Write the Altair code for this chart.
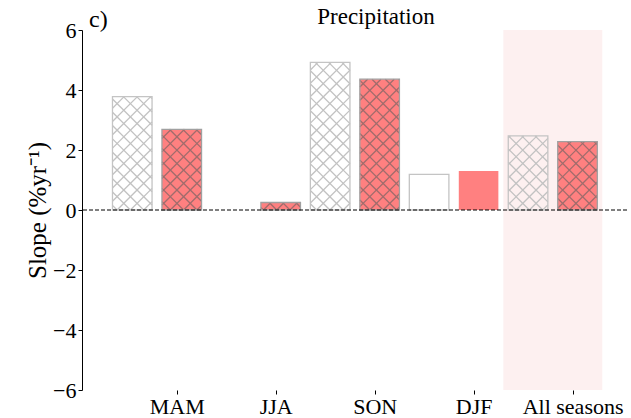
import json
import math
import altair as alt
import pandas as pd

# ---- data ----
seasons = ["MAM", "JJA", "SON", "DJF", "All seasons"]
gray_vals = [3.78, None, 4.92, 1.19, 2.47]
red_vals = [2.69, 0.25, 4.36, 1.30, 2.28]
hatched = [True, True, True, False, True]
yticks = [-6, -4, -2, 0, 2, 4, 6]
highlight = "All seasons"

# ---- layout / style ----
W, H = 545, 360
XDOM = [-0.758, 4.75]
YDOM = [-6, 6]
SX = W / (XDOM[1] - XDOM[0])
SY = H / (YDOM[1] - YDOM[0])
OFF, BW = 0.25, 0.4
HSP = 13.3  # hatch spacing in px
LABEL_SHIFT = 0.2
FONT = "Liberation Serif"

rows = []
for i, s in enumerate(seasons):
    for kind, vals, c in (("gray", gray_vals, -OFF), ("red", red_vals, OFF)):
        v = vals[i]
        if v is None:
            continue
        rows.append(dict(season=s, kind=kind, x0=i + c - BW / 2, x1=i + c + BW / 2,
                         y0=0.0, y1=v, hatch=hatched[i]))
bars = pd.DataFrame(rows)


def hatch_segments(x0, x1, h):
    a, b, hp = x0 * SX, x1 * SX, h * SY
    segs = []
    for k in range(math.ceil(a / HSP), math.floor((b + hp) / HSP) + 1):
        c = k * HSP
        u1, u2 = max(a, c - hp), min(b, c)
        if u2 > u1:
            segs.append((u1, c - u1, u2, c - u2))
    for k in range(math.ceil((a - hp) / HSP), math.floor(b / HSP) + 1):
        c = k * HSP
        u1, u2 = max(a, c), min(b, c + hp)
        if u2 > u1:
            segs.append((u1, u1 - c, u2, u2 - c))
    return [(p / SX, q / SY, r / SX, t / SY) for p, q, r, t in segs]


hrows = []
for _, r in bars[bars.hatch].iterrows():
    for hx0, hy0, hx1, hy1 in hatch_segments(r.x0, r.x1, r.y1):
        hrows.append(dict(kind=r.kind, hx0=hx0, hy0=hy0, hx1=hx1, hy1=hy1))
hatch = pd.DataFrame(hrows)

hi = seasons.index(highlight)
band = pd.DataFrame([dict(b0=hi - 0.5, b1=hi + 0.5)])
zero = pd.DataFrame([dict(z=0.0)])

xaxis = alt.Axis(values=[i + LABEL_SHIFT for i in range(len(seasons))],
                 labelExpr=f"{json.dumps(seasons)}[round(datum.value - {LABEL_SHIFT})]",
                 domain=False, ticks=True, tickSize=4, tickColor="black", grid=False,
                 labelFont=FONT, labelFontSize=22, labelColor="black", labelPadding=2,
                 labelOverlap=False, labelFlush=False, title=None)
yaxis = alt.Axis(values=yticks, domain=True, domainColor="black", ticks=True, tickSize=4,
                 tickColor="black", grid=False, labelFont=FONT, labelFontSize=22,
                 labelColor="black", labelPadding=2, format="d",
                 title="Slope (%yr⁻¹)", titleFont=FONT, titleFontSize=25,
                 titleFontWeight="normal", titleColor="black", titleAngle=270,
                 titleAlign="center", titleBaseline="alphabetic", titleX=-37, titleY=H / 2)
xs = alt.Scale(domain=XDOM, nice=False, zero=False)
ys = alt.Scale(domain=YDOM, nice=False, zero=False)


def X(f):
    return alt.X(f, type="quantitative", scale=xs, axis=xaxis)


def Y(f):
    return alt.Y(f, type="quantitative", scale=ys, axis=yaxis)


band_l = alt.Chart(band).mark_rect(color="#fdf0f0").encode(x=X("b0"), x2="b1")

red_fill = alt.Chart(bars[bars.kind == "red"]).mark_rect(color="#ff8080").encode(
    x=X("x0"), x2="x1", y=Y("y0"), y2="y1")

gray_hatch = alt.Chart(hatch[hatch.kind == "gray"]).mark_rule(color="#c2c2c2", strokeWidth=1.3).encode(
    x=X("hx0"), y=Y("hy0"), x2="hx1", y2="hy1")
red_hatch = alt.Chart(hatch[hatch.kind == "red"]).mark_rule(color="#a06c6c", strokeWidth=1.3).encode(
    x=X("hx0"), y=Y("hy0"), x2="hx1", y2="hy1")

gray_edge = alt.Chart(bars[bars.kind == "gray"]).mark_rect(
    fillOpacity=0, stroke="#c4c4c4", strokeWidth=1.3).encode(x=X("x0"), x2="x1", y=Y("y0"), y2="y1")
red_edge = alt.Chart(bars[(bars.kind == "red") & bars.hatch]).mark_rect(
    fillOpacity=0, stroke="#a0a0a0", strokeWidth=1.3).encode(x=X("x0"), x2="x1", y=Y("y0"), y2="y1")

zero_l = alt.Chart(zero).mark_rule(color="black", strokeWidth=1, strokeDash=[4, 2]).encode(y=Y("z"))

labels = pd.DataFrame([dict(t="c)", px=7, py=-3, al="left"),
                       dict(t="Precipitation", px=294, py=-6, al="center")])
panel = alt.Chart(labels[labels.al == "left"]).mark_text(
    font=FONT, fontSize=24, align="left", baseline="alphabetic", color="black").encode(
    text="t:N", x=alt.value(7), y=alt.value(-3))
title = alt.Chart(labels[labels.al == "center"]).mark_text(
    font=FONT, fontSize=23, align="center", baseline="alphabetic", color="black").encode(
    text="t:N", x=alt.value(294), y=alt.value(-6))

chart = alt.layer(band_l, red_fill, gray_hatch, red_hatch, gray_edge, red_edge,
                  zero_l, panel, title).properties(
    width=W, height=H, autosize="none",
    padding={"left": 82, "top": 30, "right": 4, "bottom": 28},
).configure_view(stroke=None)

chart.save("out.html", embed_options={"renderer": "svg", "actions": False})
